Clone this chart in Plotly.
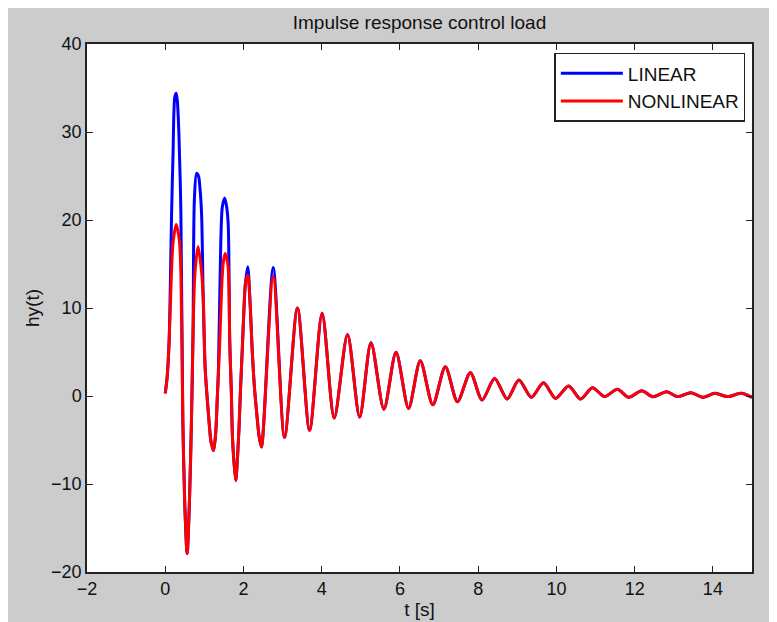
import plotly.graph_objects as go

# Nonlinear response keypoints (time [s], value)
t_nonlinear = [0.00, 0.05, 0.10, 0.15, 0.20, 0.28, 0.36, 0.40, 0.45, 0.50, 0.56, 0.62, 0.67, 0.71,
               0.76, 0.84, 0.92, 0.97, 1.02, 1.07, 1.12, 1.17, 1.235, 1.29, 1.33, 1.39, 1.44, 1.48,
               1.53, 1.60, 1.65, 1.69, 1.72, 1.80, 1.88, 1.92, 1.97, 2.01, 2.05, 2.11, 2.17, 2.22,
               2.28, 2.34, 2.40, 2.46, 2.76, 3.05, 3.38, 3.69, 4.01, 4.32, 4.66, 4.97, 5.26, 5.59,
               5.90, 6.22, 6.52, 6.84, 7.16, 7.47, 7.80, 8.10, 8.42, 8.74, 9.04, 9.36, 9.67, 9.98,
               10.31, 10.62, 10.92, 11.23, 11.56, 11.85, 12.18, 12.47, 12.82, 13.10, 13.44, 13.74,
               14.05, 14.38, 14.72, 15.00]
v_nonlinear = [0.3, 2.2, 6.3, 12.8, 17.4, 19.5, 17.7, 14.0, -2.7, -12.4, -17.9, -11.8, -2.9, 6.9,
               14.0, 17.0, 14.5, 11.3, 3.2, -0.1, -2.9, -5.2, -6.2, -4.2, -0.3, 5.6, 12.0, 15.0,
               16.2, 15.0, 6.0, 0.5, -4.8, -9.6, -4.2, 0.3, 5.4, 9.6, 12.8, 13.75, 10.5, 5.5,
               1.0, -2.0, -4.6, -5.8, 13.6, -4.7, 10.0, -3.9, 9.4, -2.5, 7.0, -2.4, 6.06, -1.5,
               4.96, -1.4, 4.0, -1.0, 3.33, -0.64, 2.65, -0.45, 2.0, -0.34, 1.82, -0.15, 1.5, -0.27,
               1.14, -0.34, 0.95, -0.07, 0.76, -0.15, 0.6, -0.08, 0.49, -0.07, 0.38, -0.15,
               0.3, -0.07, 0.3, -0.15]

# Linear response keypoints (time [s], value)
t_linear = [0.00, 0.05, 0.10, 0.13, 0.16, 0.20, 0.245, 0.28, 0.31, 0.35, 0.40, 0.45, 0.50, 0.56,
            0.62, 0.67, 0.71, 0.745, 0.80, 0.85, 0.89, 0.93, 0.97, 1.02, 1.07, 1.12, 1.17, 1.235,
            1.29, 1.33, 1.36, 1.42, 1.46, 1.52, 1.57, 1.61, 1.65, 1.69, 1.72, 1.80, 1.88, 1.92,
            1.97, 2.01, 2.05, 2.11, 2.17, 2.22, 2.28, 2.34, 2.40, 2.46, 2.76, 3.05, 3.38, 3.69,
            4.01, 4.32, 4.66, 4.97, 5.26, 5.59, 5.90, 6.22, 6.52, 6.84, 7.16, 7.47, 7.80, 8.10,
            8.42, 8.74, 9.04, 9.36, 9.67, 9.98, 10.31, 10.62, 10.92, 11.23, 11.56, 11.85, 12.18,
            12.47, 12.82, 13.10, 13.44, 13.74, 14.05, 14.38, 14.72, 15.00]
v_linear = [0.3, 2.2, 6.3, 12.5, 20.2, 27.6, 34.0, 34.4, 33.5, 29.7, 20.9, -2.7, -12.4, -17.9,
            -11.8, -2.9, 6.9, 22.3, 25.3, 25.0, 23.5, 20.6, 11.3, 3.2, -0.1, -2.9, -5.2, -6.2,
            -4.2, -0.3, 3.0, 17.5, 21.5, 22.5, 21.5, 19.5, 6.0, 0.5, -4.8, -9.6, -4.2, 0.3,
            5.4, 9.6, 12.8, 14.7, 10.5, 5.5, 1.0, -2.0, -4.6, -5.8, 14.6, -4.7, 10.0, -3.9,
            9.4, -2.5, 7.0, -2.4, 6.06, -1.5, 4.96, -1.4, 4.0, -1.0, 3.33, -0.64, 2.65, -0.45,
            2.0, -0.34, 1.82, -0.15, 1.5, -0.27, 1.14, -0.34, 0.95, -0.07, 0.76, -0.15, 0.6,
            -0.08, 0.49, -0.07, 0.38, -0.15, 0.3, -0.07, 0.3, -0.15]

x_ticks = [-2, 0, 2, 4, 6, 8, 10, 12, 14]
y_ticks = [-20, -10, 0, 10, 20, 30, 40]

FONT = "Liberation Sans, Arial, sans-serif"
TXT = dict(family=FONT, size=19, color="#111111")

W, H = 769, 614  # page body has an 8px margin in the 777x622 window

fig = go.Figure()
fig.add_trace(go.Scatter(x=t_linear, y=v_linear, mode="lines", name="LINEAR",
                         line=dict(color="#0000ff", width=3, shape="spline", smoothing=0.8)))
fig.add_trace(go.Scatter(x=t_nonlinear, y=v_nonlinear, mode="lines", name="NONLINEAR",
                         line=dict(color="#ff0000", width=3, shape="spline", smoothing=0.8)))

axis_common = dict(showgrid=False, zeroline=False, showline=True, linecolor="#222222", linewidth=1.5,
                   mirror="allticks", ticks="inside", ticklen=6, tickcolor="#222222",
                   tickfont=dict(family=FONT, size=18, color="#111111"))

fig.update_layout(
    width=W, height=H,
    paper_bgcolor="#cccccc", plot_bgcolor="white",
    margin=dict(l=79, r=25, t=36, b=50, autoexpand=False),
    title=dict(text="Impulse response control load", x=(79 + (W - 25 - 79) / 2) / W, xanchor="center",
               y=1 - 14 / H, yanchor="middle", font=TXT),
    xaxis=dict(range=[-2, 15], tickvals=x_ticks,
               title=dict(text="t [s]", standoff=2, font=TXT),
               **axis_common),
    yaxis=dict(range=[-20, 40], tickvals=y_ticks,
               title=dict(text="hy(t)", standoff=6, font=TXT),
               **axis_common),
    legend=dict(x=0.99, y=0.983, xanchor="right", yanchor="top",
                bgcolor="white", bordercolor="#222222", borderwidth=1.5,
                font=TXT, itemwidth=62, tracegroupgap=0),
    showlegend=True,
)

fig.write_html("out.html")
